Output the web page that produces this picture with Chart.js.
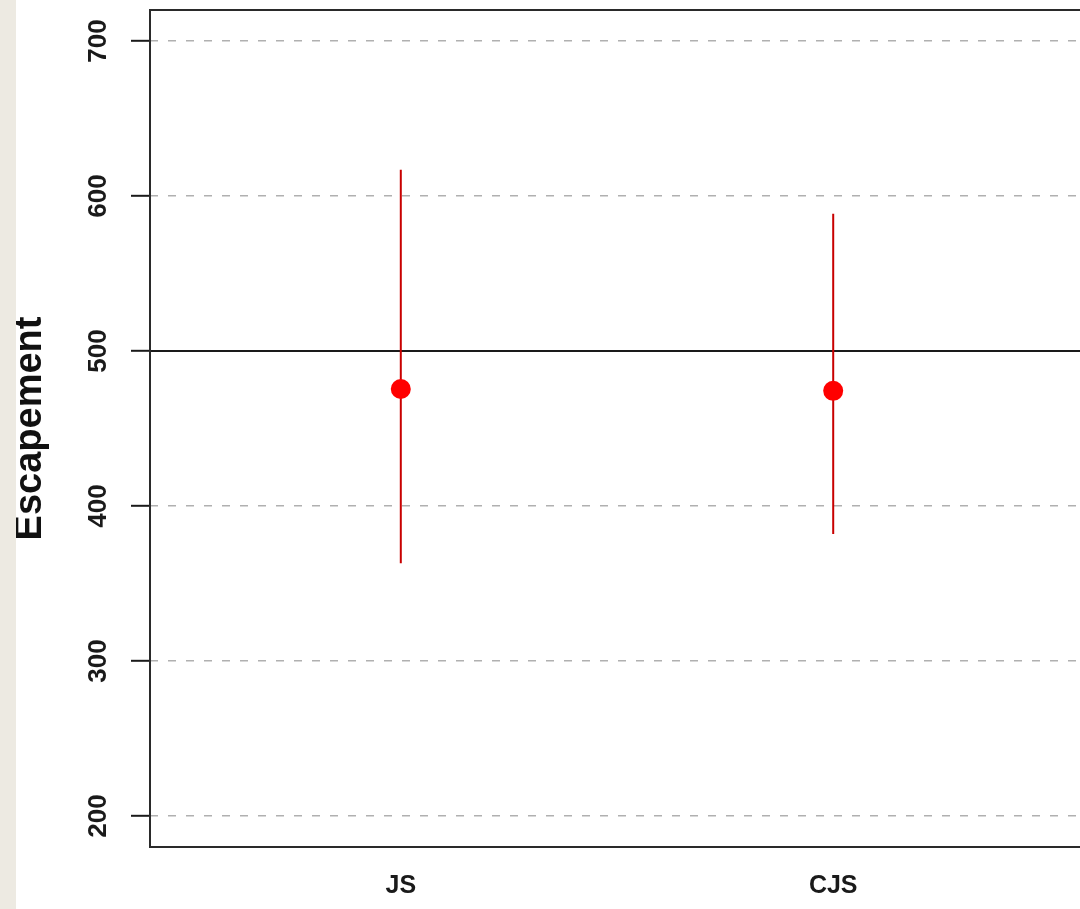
<!DOCTYPE html>
<html><head><meta charset="utf-8">
<script src="https://cdn.jsdelivr.net/npm/chart.js@4/dist/chart.umd.min.js"></script>
<style>
html,body{margin:0;padding:0;width:1080px;height:909px;overflow:hidden;background:#EDEAE2;}
#wrap{position:absolute;left:16px;top:0;width:1074px;height:909px;background:#fff;}
canvas{display:block;}
</style></head><body>
<div id="wrap"><canvas id="c" width="1074" height="909"></canvas></div>
<script>
const categories = ['JS', 'CJS'];
const estimates = [475.5, 474.3];
const lowerBounds = [363, 382];
const upperBounds = [617, 588.5];
const referenceLine = 500;
const yTickValues = [200, 300, 400, 500, 600, 700];
const yTitle = 'Escapement';
const xMin = 0.42, xMax = 2.58, yMin = 180, yMax = 720;

const catPos = categories.map((c, i) => i + 1);
const FONT = 'Liberation Sans, Arial, sans-serif';

const datasets = [];
datasets.push({
  type: 'scatter', label: 'estimate', order: 0,
  data: catPos.map((x, i) => ({x, y: estimates[i]})),
  pointRadius: 10, pointBackgroundColor: '#ff0000', pointBorderColor: '#ff0000', pointBorderWidth: 0,
  showLine: false
});
catPos.forEach((x, i) => {
  datasets.push({
    type: 'line', label: 'ci ' + categories[i], order: 1,
    data: [{x, y: lowerBounds[i]}, {x, y: upperBounds[i]}],
    borderColor: '#c80000', borderWidth: 2, pointRadius: 0, fill: false
  });
});
datasets.push({
  type: 'line', label: 'ref', order: 2,
  data: [{x: xMin, y: referenceLine}, {x: xMax, y: referenceLine}],
  borderColor: '#1a1a1a', borderWidth: 2, pointRadius: 0, fill: false
});

const boxPlugin = {
  id: 'box',
  afterDraw(chart) {
    const {ctx, chartArea: a} = chart;
    ctx.save();
    ctx.strokeStyle = '#2a2a2a';
    ctx.lineWidth = 2;
    ctx.setLineDash([]);
    ctx.strokeRect(a.left, a.top, a.right - a.left, a.bottom - a.top);
    ctx.restore();
  }
};

new Chart(document.getElementById('c'), {
  type: 'scatter',
  data: { datasets },
  plugins: [boxPlugin],
  options: {
    responsive: false,
    animation: false,
    layout: { autoPadding: false, padding: { top: 10, right: 6, bottom: 0, left: 0 } },
    plugins: { legend: { display: false }, tooltip: { enabled: false } },
    scales: {
      x: {
        type: 'linear', min: xMin, max: xMax,
        afterBuildTicks: s => { s.ticks = catPos.map(v => ({value: v})); },
        afterFit: s => { s.height = 62; s.paddingLeft = 0; s.paddingRight = 0; },
        grid: { display: false, drawTicks: false, tickLength: 0 },
        border: { display: false },
        ticks: {
          autoSkip: false, maxRotation: 0, padding: 24,
          color: '#1a1a1a', font: { family: FONT, size: 25, weight: 'bold' },
          callback: v => categories[Math.round(v) - 1] ?? ''
        }
      },
      y: {
        type: 'linear', min: yMin, max: yMax,
        afterBuildTicks: s => { s.ticks = yTickValues.map(v => ({value: v})); },
        afterFit: s => { s.width = 134; s.paddingTop = 0; s.paddingBottom = 0; },
        grid: {
          color: '#b0b0b0', lineWidth: 1.6, tickLength: 19, tickColor: '#1a1a1a', tickWidth: 2,
          tickBorderDash: []
        },
        border: { display: false, dash: [8, 10] },
        title: {
          display: true, text: yTitle, color: '#111',
          font: { family: FONT, size: 38, weight: 'bold', lineHeight: 0.76 },
          padding: 0
        },
        ticks: {
          autoSkip: false, minRotation: 90, maxRotation: 90, crossAlign: 'center', padding: 10,
          color: '#1a1a1a', font: { family: FONT, size: 26, weight: 'bold' },
          callback: v => String(v)
        }
      }
    }
  }
});
</script>
</body></html>
